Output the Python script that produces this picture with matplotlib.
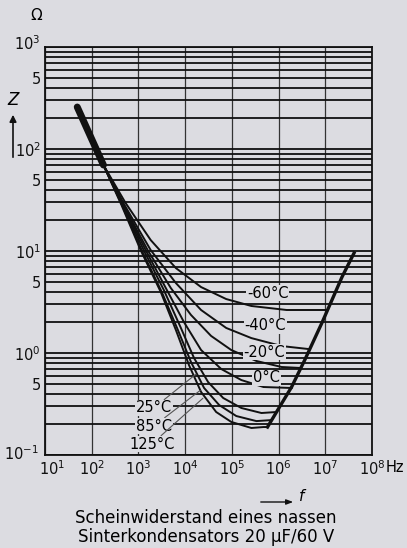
import matplotlib.pyplot as plt
import matplotlib as mpl
from matplotlib.transforms import ScaledTranslation

# Fuentes
mpl.rcParams["font.family"] = ["Liberation Sans Narrow", "DejaVu Sans"]
mpl.rcParams["mathtext.fontset"] = "custom"
mpl.rcParams["mathtext.rm"] = "Liberation Sans Narrow"
mpl.rcParams["mathtext.it"] = "Liberation Sans Narrow:italic"

# Datos (f en Hz, Z en ohm)
# tramo capacitivo comun a todas las curvas
f_comun = [49, 93.3, 178]
z_comun = [258, 134, 69.7]

# tramo inductivo comun
f_inductivo = [5.8e5, 1.05e6, 1.9e6, 3.63e6, 8.45e6, 1.39e7, 2.28e7, 4.13e7]
z_inductivo = [0.188, 0.296, 0.464, 0.853, 1.97, 3.31, 5.56, 9.55]

temperaturas = ["-60°C", "-40°C", "-20°C", "0°C", "25°C", "85°C", "125°C"]

f_m60 = [178, 530, 1832, 6338, 21930, 75710, 261900, 1486000, 10820000]
z_m60 = [69.7, 29.6, 12.8, 6.8, 4.43, 3.38, 2.89, 2.64, 2.64]

f_m40 = [178, 505, 1832, 6338, 21930, 75710, 261900, 1161000, 4660000]
z_m40 = [69.7, 28.2, 10.2, 4.85, 2.64, 1.76, 1.40, 1.17, 1.09]

f_m20 = [178, 480, 1578, 4944, 13340, 35940, 97050, 335700, 1161000, 2979000]
z_m20 = [69.7, 28.2, 10.2, 4.33, 2.36, 1.47, 1.07, 0.835, 0.729, 0.713]

f_0 = [178, 468, 1429, 4055, 9420, 21930, 59150, 159500, 475500, 1905000]
z_0 = [69.7, 28.2, 10.2, 4.15, 2.01, 1.07, 0.697, 0.543, 0.464, 0.454]

f_25 = [178, 456, 1294, 3493, 8110, 15490, 30990, 65350, 159500, 430500, 905700]
z_25 = [69.7, 28.2, 10.2, 4.15, 1.76, 0.893, 0.519, 0.362, 0.289, 0.258, 0.264]

f_85 = [178, 446, 1172, 3162, 7000, 13340, 25430, 53460, 124400, 335700, 706700]
z_85 = [69.7, 28.2, 10.2, 3.96, 1.68, 0.816, 0.454, 0.309, 0.241, 0.215, 0.220]

f_125 = [178, 434, 1114, 3008, 6338, 12070, 21930, 46130, 97050, 261900, 475500, 579700]
z_125 = [69.7, 28.2, 10.2, 3.96, 1.68, 0.762, 0.415, 0.264, 0.211, 0.184, 0.188, 0.188]

f_curvas = [f_m60, f_m40, f_m20, f_0, f_25, f_85, f_125]
z_curvas = [z_m60, z_m40, z_m20, z_0, z_25, z_85, z_125]

x_ticks = [1e1, 1e2, 1e3, 1e4, 1e5, 1e6, 1e7, 1e8]
x_ticklabels = ["$10^{1}$", "$10^{2}$", "$10^{3}$", "$10^{4}$", "$10^{5}$",
                "$10^{6}$", "$10^{7}$", "$10^{8}$"]
y_ticks = [0.1, 0.5, 1, 5, 10, 50, 100, 500, 1000]
y_ticklabels = ["$10^{-1}$", "5", "$10^{0}$", "5", "$10^{1}$", "5",
                "$10^{2}$", "5", "$10^{3}$"]

fondo = "#dcdce1"
tinta = "#111111"

fig = plt.figure(figsize=(4.07, 5.48), dpi=100, facecolor=fondo)
ax = fig.add_axes([45 / 407, 1 - 455 / 548, 327 / 407, 408 / 548])
ax.set_facecolor(fondo)
ax.set_xscale("log")
ax.set_yscale("log")
ax.set_xlim(10, 1e8)
ax.set_ylim(0.1, 1000)

# Rejilla: horizontales densas, verticales solo en decadas
ax.set_xticks(x_ticks)
ax.set_xticklabels(x_ticklabels, fontsize=10.5)
ax.xaxis.set_minor_locator(mpl.ticker.NullLocator())
ax.set_yticks(y_ticks)
ax.set_yticklabels(y_ticklabels, fontsize=10.5)
ax.yaxis.set_minor_locator(mpl.ticker.LogLocator(base=10, subs=range(2, 10)))
ax.yaxis.set_minor_formatter(mpl.ticker.NullFormatter())
ax.tick_params(which="both", length=0, pad=3, colors=tinta)
ax.grid(True, which="major", axis="x", color="#333333", lw=0.9)
ax.grid(True, which="both", axis="y", color=tinta, lw=1.3)
for s in ax.spines.values():
    s.set_color(tinta)
    s.set_linewidth(1.3)

# pequenos desplazamientos de etiquetas en las esquinas
xl = ax.get_xticklabels()
xl[0].set_transform(xl[0].get_transform() + ScaledTranslation(0.07, 0, fig.dpi_scale_trans))
yl = ax.get_yticklabels()
yl[0].set_transform(yl[0].get_transform() + ScaledTranslation(-0.02, 0.03, fig.dpi_scale_trans))
yl[-1].set_transform(yl[-1].get_transform() + ScaledTranslation(0, 0.05, fig.dpi_scale_trans))

# Curvas
ax.plot(f_comun, z_comun, color=tinta, lw=5, solid_capstyle="round", zorder=4)
for f, z in zip(f_curvas, z_curvas):
    ax.plot(f, z, color=tinta, lw=1.4, zorder=4)
ax.plot(f_inductivo, z_inductivo, color=tinta, lw=2.4, zorder=4)

# Etiquetas de temperatura
caja = dict(facecolor=fondo, edgecolor="none", pad=0.6)
pos_sup = [(5.8e5, 3.87), (5.25e5, 1.84), (5.0e5, 1.02), (5.5e5, 0.569)]
for t, (x, y) in zip(temperaturas[:4], pos_sup):
    ax.text(x, y, t, fontsize=10.5, ha="center", va="center", bbox=caja, zorder=5)

pos_inf = [(2128, 0.289), (2128, 0.192), (1923, 0.128)]
puntos = [(17000, 0.62), (21000, 0.43), (24000, 0.36)]
for t, (x, y), p in zip(temperaturas[4:], pos_inf, puntos):
    ax.annotate(t, xy=p, xytext=(x, y), fontsize=10.5, ha="center", va="center",
                bbox=caja, zorder=5,
                arrowprops=dict(arrowstyle="-", color="#555555", lw=0.8,
                                shrinkA=0, shrinkB=0))

# Textos de ejes
fig.text(386 / 407, 1 - 467 / 548, "Hz", fontsize=10.5, ha="left", va="center")
fig.text(36 / 407, 1 - 15 / 548, "Ω", fontsize=11, ha="center", va="center")
fig.text(14 / 407, 1 - 100 / 548, "$Z$", fontsize=12, ha="center", va="center")
fig.add_artist(mpl.patches.FancyArrowPatch(
    (13 / 407, 1 - 160 / 548), (13 / 407, 1 - 112 / 548),
    transform=fig.transFigure, arrowstyle="-|>,head_length=4,head_width=2",
    color=tinta, lw=1.2))
fig.add_artist(mpl.patches.FancyArrowPatch(
    (258 / 407, 1 - 502 / 548), (296 / 407, 1 - 502 / 548),
    transform=fig.transFigure, arrowstyle="-|>,head_length=4,head_width=1.5",
    color=tinta, lw=1.0))
fig.text(303 / 407, 1 - 496 / 548, "$f$", fontsize=11, ha="center", va="center")

# Titulo abajo
fig.text(206 / 407, 1 - 518 / 548, "Scheinwiderstand eines nassen",
         fontsize=12, ha="center", va="center", family="DejaVu Sans")
fig.text(206 / 407, 1 - 537 / 548, "Sinterkondensators 20 µF/60 V",
         fontsize=12, ha="center", va="center", family="DejaVu Sans")

fig.savefig("out.png", dpi=100, facecolor=fondo)
